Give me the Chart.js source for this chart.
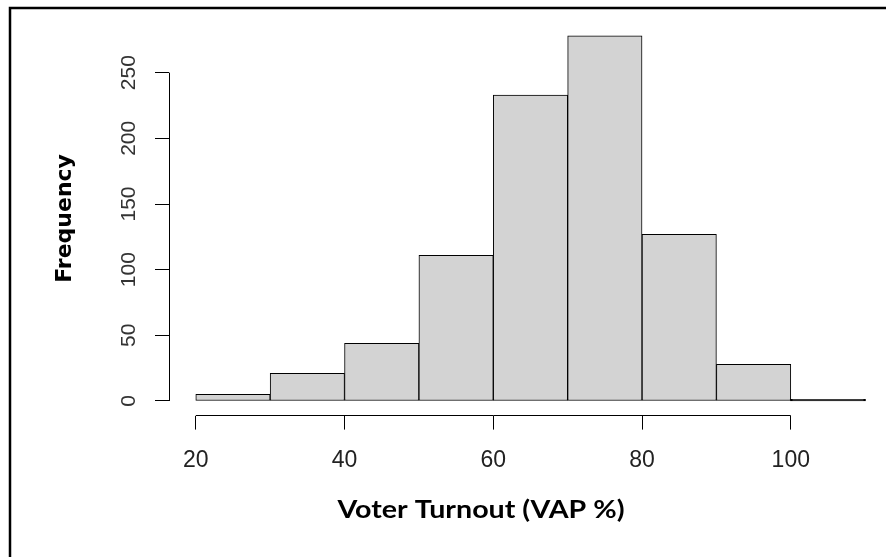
<!DOCTYPE html>
<html><head><meta charset="utf-8">
<script src="https://cdn.jsdelivr.net/npm/chart.js@4.4.1/dist/chart.umd.min.js"></script>
<style>html,body{margin:0;padding:0;background:#fff;overflow:hidden}</style>
</head><body>
<canvas id="c" width="886" height="557"></canvas>
<script>
// ---- data ----
const binStarts = [20, 30, 40, 50, 60, 70, 80, 90, 100];
const binWidth = 10;
const frequencies = [5, 21, 44, 111, 233, 278, 127, 28, 1];
const xTickValues = [20, 40, 60, 80, 100];
const yTickValues = [0, 50, 100, 150, 200, 250];
const xTitle = 'Voter Turnout (VAP %)';
const yTitle = 'Frequency';

// ---- layout constants ----
const X_MIN = 16.4, X_MAX = 112.8;
const Y_MIN = -11.12, Y_MAX = 289.12;
const X_TITLE_CX = 481, X_TITLE_BASE = 518, X_TITLE_W = 287;

const decor = {
  id: 'decor',
  afterDraw(chart) {
    const {ctx, chartArea, scales: {x, y}} = chart;
    ctx.save();
    ctx.strokeStyle = '#000';
    ctx.lineWidth = 1;
    ctx.beginPath();
    const yb = Math.floor(chartArea.bottom) + 0.5;
    ctx.moveTo(x.getPixelForValue(xTickValues[0]), yb);
    ctx.lineTo(x.getPixelForValue(xTickValues[xTickValues.length - 1]), yb);
    const xl = Math.floor(chartArea.left) + 0.5;
    ctx.moveTo(xl, y.getPixelForValue(yTickValues[0]));
    ctx.lineTo(xl, y.getPixelForValue(yTickValues[yTickValues.length - 1]));
    ctx.stroke();
    // outer frame (left & top visible)
    ctx.lineWidth = 2.5;
    ctx.strokeRect(10, 8, 900, 600);
    // x axis title
    ctx.font = 'bold 25px Lato, "Open Sans", sans-serif';
    ctx.textAlign = 'center';
    ctx.textBaseline = 'alphabetic';
    ctx.fillStyle = '#000';
    const w = ctx.measureText(xTitle).width;
    ctx.translate(X_TITLE_CX, X_TITLE_BASE);
    ctx.scale(X_TITLE_W / w, 1);
    ctx.fillText(xTitle, 0, 0);
    ctx.restore();
  }
};

const gridOpts = {drawOnChartArea: false, drawTicks: true, offset: false, tickLength: 14, color: '#000', lineWidth: 1};

new Chart(document.getElementById('c'), {
  type: 'bar',
  data: {
    datasets: [{
      data: binStarts.map((s, i) => ({x: s + binWidth / 2, y: frequencies[i]})),
      backgroundColor: c => (frequencies[c.dataIndex] < 3 ? '#000' : '#d3d3d3'),
      borderColor: '#000',
      borderWidth: 1,
      borderSkipped: false,
      inflateAmount: c => (frequencies[c.dataIndex] < 3 ? 0.7 : 'auto'),
      barPercentage: 1,
      categoryPercentage: 1
    }]
  },
  options: {
    responsive: false,
    animation: false,
    devicePixelRatio: 1,
    layout: {padding: {top: 21.3, left: 0, right: 0, bottom: 0}},
    plugins: {legend: {display: false}, tooltip: {enabled: false}},
    scales: {
      x: {
        type: 'linear', min: X_MIN, max: X_MAX, offset: false,
        afterBuildTicks: s => { s.ticks = xTickValues.map(v => ({value: v})); },
        afterFit: s => { s.height = 141.4; s.paddingLeft = 0; s.paddingRight = 0; },
        grid: gridOpts,
        border: {display: false},
        ticks: {
          font: {family: "'Liberation Sans Narrow','Liberation Sans',Arial,sans-serif", size: 23},
          color: '#222', padding: 17, maxRotation: 0, minRotation: 0, autoSkip: false
        }
      },
      y: {
        type: 'linear', min: Y_MIN, max: Y_MAX,
        afterBuildTicks: s => { s.ticks = yTickValues.map(v => ({value: v})); },
        afterFit: s => { s.width = 169; s.paddingTop = 0; s.paddingBottom = 0; },
        grid: gridOpts,
        border: {display: false},
        ticks: {
          font: {family: "'Liberation Sans',Arial,sans-serif", size: 21},
          color: '#333', padding: 8, minRotation: 90, maxRotation: 90, crossAlign: 'center', autoSkip: false
        },
        title: {
          display: true, text: yTitle, color: '#000',
          font: {family: "'DejaVu Sans'", weight: 'bold', size: 22},
          padding: {top: 52, bottom: 0}
        }
      }
    }
  },
  plugins: [decor]
});
</script>
</body></html>
